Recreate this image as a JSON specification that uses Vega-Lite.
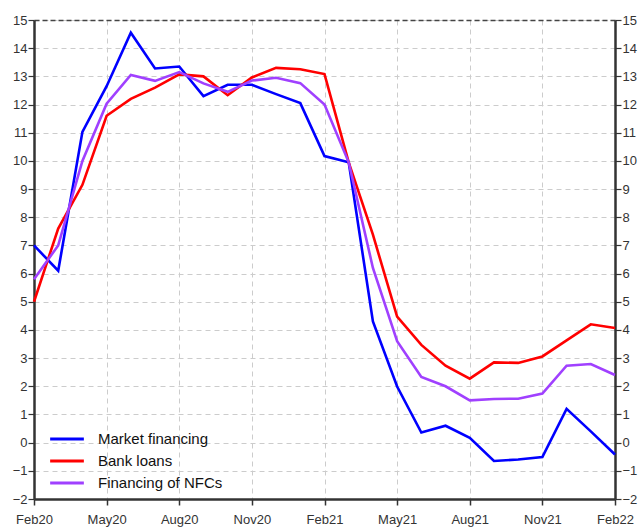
{
  "$schema": "https://vega.github.io/schema/vega-lite/v6.json",
  "autosize": "none",
  "width": 581,
  "height": 479,
  "padding": {"left": 34, "top": 20, "right": 24, "bottom": 30},
  "background": "white",
  "config": {
    "view": {"stroke": null},
    "font": "Liberation Sans",
    "axis": {"labelFont": "Liberation Sans", "labelFontSize": 13, "labelColor": "#333", "domainColor": "#333", "tickColor": "#333", "gridColor": "#cccccc", "gridDash": [5, 4], "gridWidth": 1}
  },
  "data": {"values": [
    {"m":"Feb20","s":"Market financing","v":7.0},{"m":"Mar20","s":"Market financing","v":6.1},{"m":"Apr20","s":"Market financing","v":11.03},{"m":"May20","s":"Market financing","v":12.65},{"m":"Jun20","s":"Market financing","v":14.55},{"m":"Jul20","s":"Market financing","v":13.28},{"m":"Aug20","s":"Market financing","v":13.35},{"m":"Sep20","s":"Market financing","v":12.3},{"m":"Oct20","s":"Market financing","v":12.7},{"m":"Nov20","s":"Market financing","v":12.7},{"m":"Dec20","s":"Market financing","v":12.37},{"m":"Jan21","s":"Market financing","v":12.05},{"m":"Feb21","s":"Market financing","v":10.17},{"m":"Mar21","s":"Market financing","v":9.95},{"m":"Apr21","s":"Market financing","v":4.3},{"m":"May21","s":"Market financing","v":1.99},{"m":"Jun21","s":"Market financing","v":0.36},{"m":"Jul21","s":"Market financing","v":0.6},{"m":"Aug21","s":"Market financing","v":0.17},{"m":"Sep21","s":"Market financing","v":-0.65},{"m":"Oct21","s":"Market financing","v":-0.6},{"m":"Nov21","s":"Market financing","v":-0.51},{"m":"Dec21","s":"Market financing","v":1.2},{"m":"Jan22","s":"Market financing","v":0.4},{"m":"Feb22","s":"Market financing","v":-0.42},
    {"m":"Feb20","s":"Bank loans","v":5.0},{"m":"Mar20","s":"Bank loans","v":7.6},{"m":"Apr20","s":"Bank loans","v":9.15},{"m":"May20","s":"Bank loans","v":11.6},{"m":"Jun20","s":"Bank loans","v":12.2},{"m":"Jul20","s":"Bank loans","v":12.6},{"m":"Aug20","s":"Bank loans","v":13.07},{"m":"Sep20","s":"Bank loans","v":13.0},{"m":"Oct20","s":"Bank loans","v":12.33},{"m":"Nov20","s":"Bank loans","v":12.96},{"m":"Dec20","s":"Bank loans","v":13.3},{"m":"Jan21","s":"Bank loans","v":13.25},{"m":"Feb21","s":"Bank loans","v":13.08},{"m":"Mar21","s":"Bank loans","v":9.95},{"m":"Apr21","s":"Bank loans","v":7.38},{"m":"May21","s":"Bank loans","v":4.47},{"m":"Jun21","s":"Bank loans","v":3.47},{"m":"Jul21","s":"Bank loans","v":2.73},{"m":"Aug21","s":"Bank loans","v":2.27},{"m":"Sep21","s":"Bank loans","v":2.85},{"m":"Oct21","s":"Bank loans","v":2.83},{"m":"Nov21","s":"Bank loans","v":3.06},{"m":"Dec21","s":"Bank loans","v":3.63},{"m":"Jan22","s":"Bank loans","v":4.2},{"m":"Feb22","s":"Bank loans","v":4.07},
    {"m":"Feb20","s":"Financing of NFCs","v":5.8},{"m":"Mar20","s":"Financing of NFCs","v":7.0},{"m":"Apr20","s":"Financing of NFCs","v":10.0},{"m":"May20","s":"Financing of NFCs","v":12.03},{"m":"Jun20","s":"Financing of NFCs","v":13.05},{"m":"Jul20","s":"Financing of NFCs","v":12.84},{"m":"Aug20","s":"Financing of NFCs","v":13.15},{"m":"Sep20","s":"Financing of NFCs","v":12.75},{"m":"Oct20","s":"Financing of NFCs","v":12.45},{"m":"Nov20","s":"Financing of NFCs","v":12.85},{"m":"Dec20","s":"Financing of NFCs","v":12.95},{"m":"Jan21","s":"Financing of NFCs","v":12.76},{"m":"Feb21","s":"Financing of NFCs","v":12.0},{"m":"Mar21","s":"Financing of NFCs","v":9.95},{"m":"Apr21","s":"Financing of NFCs","v":6.2},{"m":"May21","s":"Financing of NFCs","v":3.6},{"m":"Jun21","s":"Financing of NFCs","v":2.33},{"m":"Jul21","s":"Financing of NFCs","v":2.0},{"m":"Aug21","s":"Financing of NFCs","v":1.5},{"m":"Sep21","s":"Financing of NFCs","v":1.55},{"m":"Oct21","s":"Financing of NFCs","v":1.56},{"m":"Nov21","s":"Financing of NFCs","v":1.74},{"m":"Dec21","s":"Financing of NFCs","v":2.73},{"m":"Jan22","s":"Financing of NFCs","v":2.79},{"m":"Feb22","s":"Financing of NFCs","v":2.4}
  ]},
  "resolve": {"axis": {"x": "independent", "y": "independent"}},
  "layer": [
    {
      "mark": {"type": "line", "strokeWidth": 2.6, "clip": false},
      "encoding": {
        "x": {"field": "m", "type": "ordinal", "sort": null, "scale": {"type": "point", "padding": 0},
          "axis": {"orient": "bottom", "title": null, "labelAngle": 0, "values": ["Feb20","May20","Aug20","Nov20","Feb21","May21","Aug21","Nov21","Feb22"], "domainWidth": 2.5, "tickSize": 6, "tickWidth": 1.5, "labelPadding": 8, "grid": true}},
        "y": {"field": "v", "type": "quantitative", "scale": {"domain": [-2, 15], "nice": false, "zero": false},
          "axis": {"orient": "left", "title": null, "values": [-2,-1,0,1,2,3,4,5,6,7,8,9,10,11,12,13,14,15], "domainWidth": 2.5, "tickSize": 6, "tickWidth": 1.2, "labelPadding": 1, "grid": true}},
        "color": {"field": "s", "type": "nominal", "sort": ["Market financing", "Bank loans", "Financing of NFCs"],
          "scale": {"domain": ["Market financing", "Bank loans", "Financing of NFCs"], "range": ["#0000ff", "#ff0000", "#a040ff"]},
          "legend": {"title": null, "orient": "none", "legendX": 19, "legendY": 405, "symbolType": "M-1.4,0H1.4", "symbolSize": 580, "symbolStrokeWidth": 3, "labelFontSize": 15, "labelFont": "Liberation Sans", "labelColor": "#111", "rowPadding": 0, "labelOffset": 17, "padding": 0}}
      }
    },
    {
      "mark": {"type": "line", "strokeOpacity": 0},
      "encoding": {
        "x": {"field": "m", "type": "ordinal", "sort": null, "scale": {"type": "point", "padding": 0},
          "axis": {"orient": "top", "title": null, "labels": false, "ticks": false, "domainDash": [5, 3], "domainWidth": 1.5, "domainColor": "#444", "grid": false}},
        "y": {"field": "v", "type": "quantitative", "scale": {"domain": [-2, 15], "nice": false, "zero": false},
          "axis": {"orient": "right", "title": null, "values": [-2,-1,0,1,2,3,4,5,6,7,8,9,10,11,12,13,14,15], "domainWidth": 2.5, "tickSize": 6, "tickWidth": 1.2, "labelPadding": 1, "grid": false}}
      }
    }
  ]
}
